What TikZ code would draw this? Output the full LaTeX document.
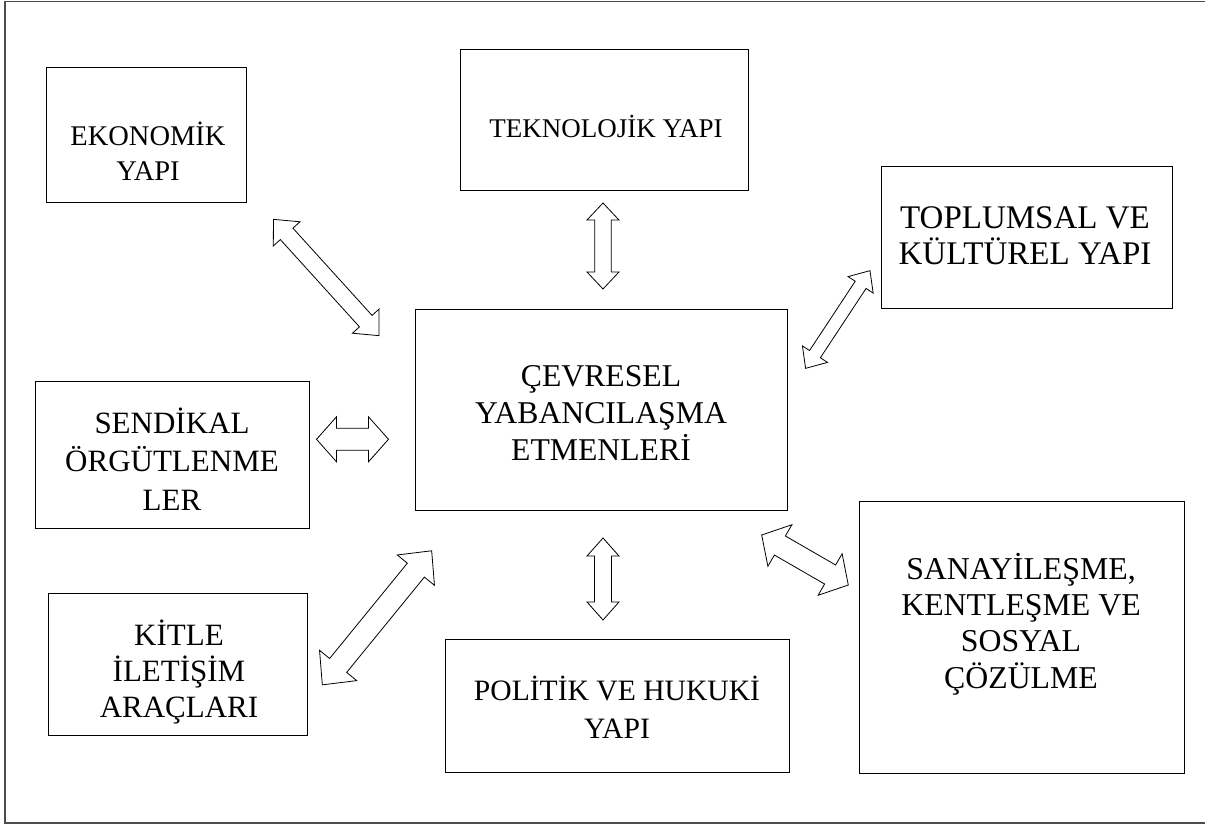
\documentclass[tikz,border=0pt]{standalone}
\usepackage{fontspec}
\setmainfont{Liberation Serif}
\usetikzlibrary{calc}

\tikzset{
  box/.style={draw, line width=1bp, inner sep=0pt},
  % #1 font size, #2 line distance (bp)
  txt/.style 2 args={align=center, inner sep=0pt, font=\fontsize{#1bp}{#2bp}\selectfont},
  arrowline/.style={draw, line width=0.8bp, line join=miter, fill=white},
  % #1 length, #2 head width, #3 shaft width, #4 head length
  pics/dblarrow/.style n args={4}{code={
    \draw[arrowline] (-#1/2,0) -- (-#1/2+#4,#2/2) -- (-#1/2+#4,#3/2)
      -- (#1/2-#4,#3/2) -- (#1/2-#4,#2/2) -- (#1/2,0)
      -- (#1/2-#4,-#2/2) -- (#1/2-#4,-#3/2) -- (-#1/2+#4,-#3/2)
      -- (-#1/2+#4,-#2/2) -- cycle;
  }}
}

\begin{document}
\begin{tikzpicture}[x=1bp, y=-1bp]
  \useasboundingbox (0,0) rectangle (1205,826);
  % outer frame, its right side runs off the page
  \draw[gray!60!black, line width=1.5bp] (1230,1.5) -- (5,1.5) -- (5,823) -- (1230,823);

  % boxes
  \node[box, minimum width=199bp, minimum height=134bp] (eko) at (146.5,135) {};
  \node[box, minimum width=288bp, minimum height=140bp] (tek) at (604,120) {};
  \node[box, minimum width=291bp, minimum height=142bp] (top) at (1026.5,237) {};
  \node[box, minimum width=372bp, minimum height=201bp] (cev) at (601,409.5) {};
  \node[box, minimum width=273bp, minimum height=147bp] (sen) at (172.5,454.5) {};
  \node[box, minimum width=258bp, minimum height=142bp] (kit) at (178,664) {};
  \node[box, minimum width=344bp, minimum height=133bp] (pol) at (617,705.5) {};
  \node[box, minimum width=325bp, minimum height=272bp] (san) at (1021.5,637) {};

  % texts
  \node[txt={28.5}{35}] (eko-t) at (148,151) {EKONOMİK\\YAPI};
  \node[txt={27}{30}] (tek-t) at (606,126) {TEKNOLOJİK YAPI};
  \node[txt={33}{36}] (top-t) at (1025,236) {TOPLUMSAL VE\\KÜLTÜREL YAPI};
  \node[txt={31.7}{36.7}] (cev-t) at (601,413) {ÇEVRESEL\\YABANCILAŞMA\\ETMENLERİ};
  \node[txt={31}{38.5}] (sen-t) at (172,459) {SENDİKAL\\ÖRGÜTLENME\\LER};
  \node[txt={31}{36}] (kit-t) at (179,672) {KİTLE\\İLETİŞİM\\ARAÇLARI};
  \node[txt={29.6}{38}] (pol-t) at (617,707) {POLİTİK VE HUKUKİ\\YAPI};
  \node[txt={31.8}{36.2}] (san-t) at (1021,624) {SANAYİLEŞME,\\KENTLEŞME VE\\SOSYAL\\ÇÖZÜLME};

  % block arrows
  \pic[rotate=-47.8] (eko-a) at (326.2,277.5) {dblarrow={157}{36}{17}{19.6}};
  \pic[rotate=90] (tek-a) at (603,246) {dblarrow={86}{32}{16.5}{17}};
  \pic[rotate=56.6] (top-a) at (837.8,319.5) {dblarrow={117}{30}{13}{17}};
  \pic (sen-a) at (352.5,439.3) {dblarrow={72}{45}{22}{20}};
  \pic[rotate=50.8] (kit-a) at (377,617.8) {dblarrow={173}{48}{22}{25}};
  \pic[rotate=90] (pol-a) at (603,579) {dblarrow={82}{32}{17}{18}};
  \pic[rotate=-30] (san-a) at (805,560) {dblarrow={100}{48}{22}{21}};
\end{tikzpicture}
\end{document}
